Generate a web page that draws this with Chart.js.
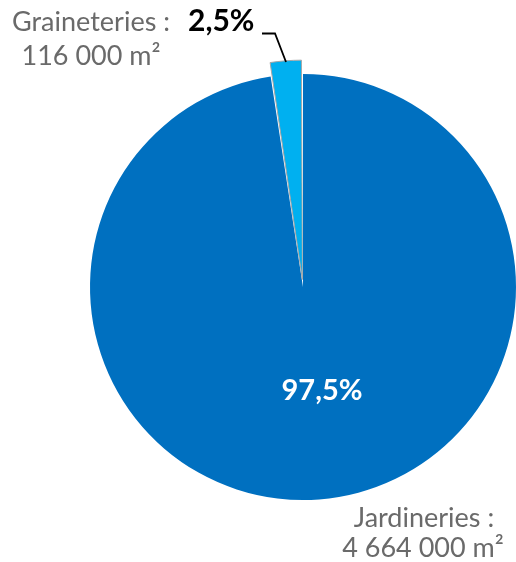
<!DOCTYPE html>
<html>
<head>
<meta charset="utf-8">
<script src="https://cdn.jsdelivr.net/npm/chart.js@4/dist/chart.umd.min.js"></script>
<style>
  html, body { margin: 0; padding: 0; background: #fff; }
  #wrap { width: 516px; height: 562px; position: relative; }
</style>
</head>
<body>
<div id="wrap"><canvas id="pie"></canvas></div>
<script>
// Surfaces (m²) by type of shop
const categories = ['Jardineries', 'Graineteries'];
const areas = [4664000, 116000];
const areaLabels = ['4 664 000 m²', '116 000 m²'];
const percentLabels = ['97,5%', '2,5%'];
const colors = ['#0070C0', '#00B0F0'];

const FONT = 'Lato, "Open Sans", sans-serif';

// Draws the Excel-style data labels and the leader line
const labelPlugin = {
  id: 'pieLabels',
  afterDatasetsDraw(chart) {
    const ctx = chart.ctx;
    ctx.save();
    ctx.textBaseline = 'alphabetic';

    // big slice: percentage inside
    ctx.fillStyle = '#ffffff';
    ctx.font = 'bold 29px ' + FONT;
    ctx.textAlign = 'center';
    ctx.fillText(percentLabels[0], 322, 400);

    // big slice: name and area outside, bottom right
    ctx.fillStyle = '#6a6a6a';
    ctx.font = '27px ' + FONT;
    ctx.fillText(categories[0] + ' :', 424, 527);
    ctx.fillText(areaLabels[0], 423, 557);

    // small slice: name, bold percentage, area
    ctx.textAlign = 'right';
    ctx.fillText(categories[1] + ' :', 170, 31);
    ctx.textAlign = 'center';
    ctx.fillText(areaLabels[1], 91, 65);
    ctx.fillStyle = '#000000';
    ctx.font = 'bold 30px ' + FONT;
    ctx.textAlign = 'left';
    ctx.fillText(percentLabels[1], 188, 31);

    // leader line to the small slice
    ctx.strokeStyle = '#000000';
    ctx.lineWidth = 1.8;
    ctx.beginPath();
    ctx.moveTo(262, 33.5);
    ctx.lineTo(275, 33.5);
    ctx.lineTo(286, 62);
    ctx.stroke();
    ctx.restore();
  }
};

new Chart(document.getElementById('pie'), {
  type: 'pie',
  data: {
    labels: categories,
    datasets: [{
      data: areas,
      backgroundColor: colors,
      borderColor: ['#0070C0', '#a6a6a6'],
      borderWidth: [0, 1],
      offset: [0, 30],
      radius: 213
    }]
  },
  options: {
    responsive: true,
    maintainAspectRatio: false,
    animation: false,
    layout: { padding: { left: 90, right: 0, top: 12, bottom: 0 } },
    plugins: {
      legend: { display: false },
      tooltip: { enabled: false }
    }
  },
  plugins: [labelPlugin]
});
</script>
</body>
</html>
